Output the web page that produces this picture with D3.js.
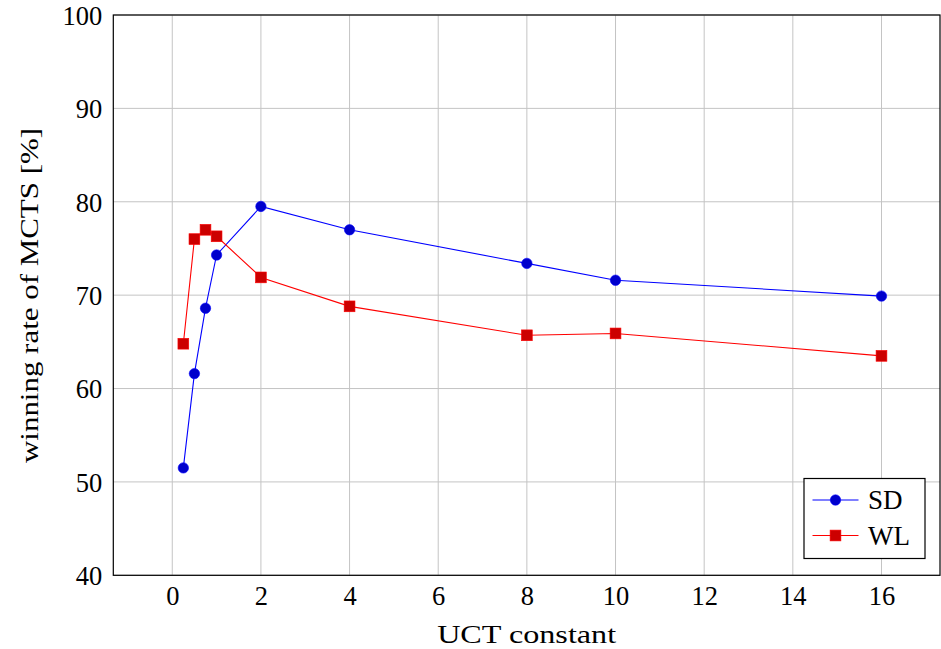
<!DOCTYPE html>
<html>
<head>
<meta charset="utf-8">
<script src="https://cdn.jsdelivr.net/npm/d3@7"></script>
<style>
  body { margin: 0; background: #fff; }
  text { font-family: "Liberation Serif", "DejaVu Serif", serif; fill: #000; }
</style>
</head>
<body>
<div id="chart"></div>
<script>
// data
var uct = [0.25, 0.5, 0.75, 1, 2, 4, 8, 10, 16];
var sdRate = [51.5, 61.6, 68.6, 74.3, 79.5, 77.0, 73.4, 71.6, 69.9];
var wlRate = [64.8, 76.0, 77.0, 76.3, 71.9, 68.8, 65.7, 65.9, 63.5];
var xTicks = [0, 2, 4, 6, 8, 10, 12, 14, 16];
var yTicks = [40, 50, 60, 70, 80, 90, 100];

var W = 941, H = 649;
var pL = 113.3, pR = 940, pT = 15, pB = 575.3;

var svg = d3.select("#chart").append("svg")
    .attr("width", W)
    .attr("height", H);

var x = d3.scaleLinear().domain([-1.33, 17.32]).range([pL, pR]);
var y = d3.scaleLinear().domain([40, 100]).range([pB, pT]);

// grid
svg.append("g").selectAll("line").data(xTicks).enter().append("line")
    .attr("x1", d => x(d)).attr("x2", d => x(d))
    .attr("y1", pT).attr("y2", pB)
    .attr("stroke", "#c4c4c4").attr("stroke-width", 1);
svg.append("g").selectAll("line").data(yTicks).enter().append("line")
    .attr("x1", pL).attr("x2", pR)
    .attr("y1", d => y(d)).attr("y2", d => y(d))
    .attr("stroke", "#c4c4c4").attr("stroke-width", 1);

// axes (labels only, box drawn below)
var xAxis = svg.append("g")
    .attr("transform", "translate(0," + pB + ")")
    .call(d3.axisBottom(x).tickValues(xTicks).tickSize(0).tickPadding(11));
var yAxis = svg.append("g")
    .attr("transform", "translate(" + pL + ",0)")
    .call(d3.axisLeft(y).tickValues(yTicks).tickSize(0).tickPadding(11));
[xAxis, yAxis].forEach(function(a) {
  a.select(".domain").remove();
  a.selectAll("text").attr("font-size", 26.5)
    .style("font-family", '"Liberation Serif", "DejaVu Serif", serif');
});
yAxis.selectAll("text").attr("dy", "0.35em");

// frame
svg.append("rect")
    .attr("x", pL).attr("y", pT)
    .attr("width", pR - pL).attr("height", pB - pT)
    .attr("fill", "none").attr("stroke", "#000").attr("stroke-width", 1.2);

var line = d3.line().x(d => x(d[0])).y(d => y(d[1]));
var sdPts = uct.map((u, i) => [u, sdRate[i]]);
var wlPts = uct.map((u, i) => [u, wlRate[i]]);

svg.append("path").datum(sdPts).attr("d", line)
    .attr("fill", "none").attr("stroke", "#0000ff").attr("stroke-width", 1.1);
svg.append("path").datum(wlPts).attr("d", line)
    .attr("fill", "none").attr("stroke", "#ff0000").attr("stroke-width", 1.1);

svg.append("g").selectAll("circle").data(sdPts).enter().append("circle")
    .attr("cx", d => x(d[0])).attr("cy", d => y(d[1])).attr("r", 5.2)
    .attr("fill", "#0000cc").attr("stroke", "#0000ff").attr("stroke-width", 0.6);
svg.append("g").selectAll("rect").data(wlPts).enter().append("rect")
    .attr("x", d => x(d[0]) - 5.4).attr("y", d => y(d[1]) - 5.4)
    .attr("width", 10.8).attr("height", 10.8)
    .attr("fill", "#cc0000").attr("stroke", "#ff0000").attr("stroke-width", 0.6);

// legend
var lg = svg.append("g");
lg.append("rect").attr("x", 804).attr("y", 478.5).attr("width", 121).attr("height", 80)
    .attr("fill", "#fff").attr("stroke", "#000").attr("stroke-width", 1.2);
var entries = [["SD", "#0000ff", "#0000cc", "c", 500], ["WL", "#ff0000", "#cc0000", "s", 535.5]];
entries.forEach(function(e) {
  lg.append("line").attr("x1", 812.5).attr("x2", 858.5).attr("y1", e[4]).attr("y2", e[4])
      .attr("stroke", e[1]).attr("stroke-width", 1.1);
  if (e[3] == "c") {
    lg.append("circle").attr("cx", 835.5).attr("cy", e[4]).attr("r", 5.2)
        .attr("fill", e[2]).attr("stroke", e[1]).attr("stroke-width", 0.6);
  } else {
    lg.append("rect").attr("x", 830.1).attr("y", e[4] - 5.4).attr("width", 10.8).attr("height", 10.8)
        .attr("fill", e[2]).attr("stroke", e[1]).attr("stroke-width", 0.6);
  }
  lg.append("text").attr("x", 868).attr("y", e[4]).attr("dy", "0.35em")
      .attr("font-size", 27).text(e[0]);
});

// axis titles
svg.append("text").attr("x", (pL + pR) / 2).attr("y", 643)
    .attr("text-anchor", "middle").attr("font-size", 26)
    .attr("textLength", 179).attr("lengthAdjust", "spacingAndGlyphs")
    .text("UCT constant");
svg.append("text")
    .attr("transform", "translate(38," + 295.5 + ") rotate(-90)")
    .attr("text-anchor", "middle").attr("font-size", 26)
    .attr("textLength", 335).attr("lengthAdjust", "spacingAndGlyphs")
    .text("winning rate of MCTS [%]");
</script>
</body>
</html>
